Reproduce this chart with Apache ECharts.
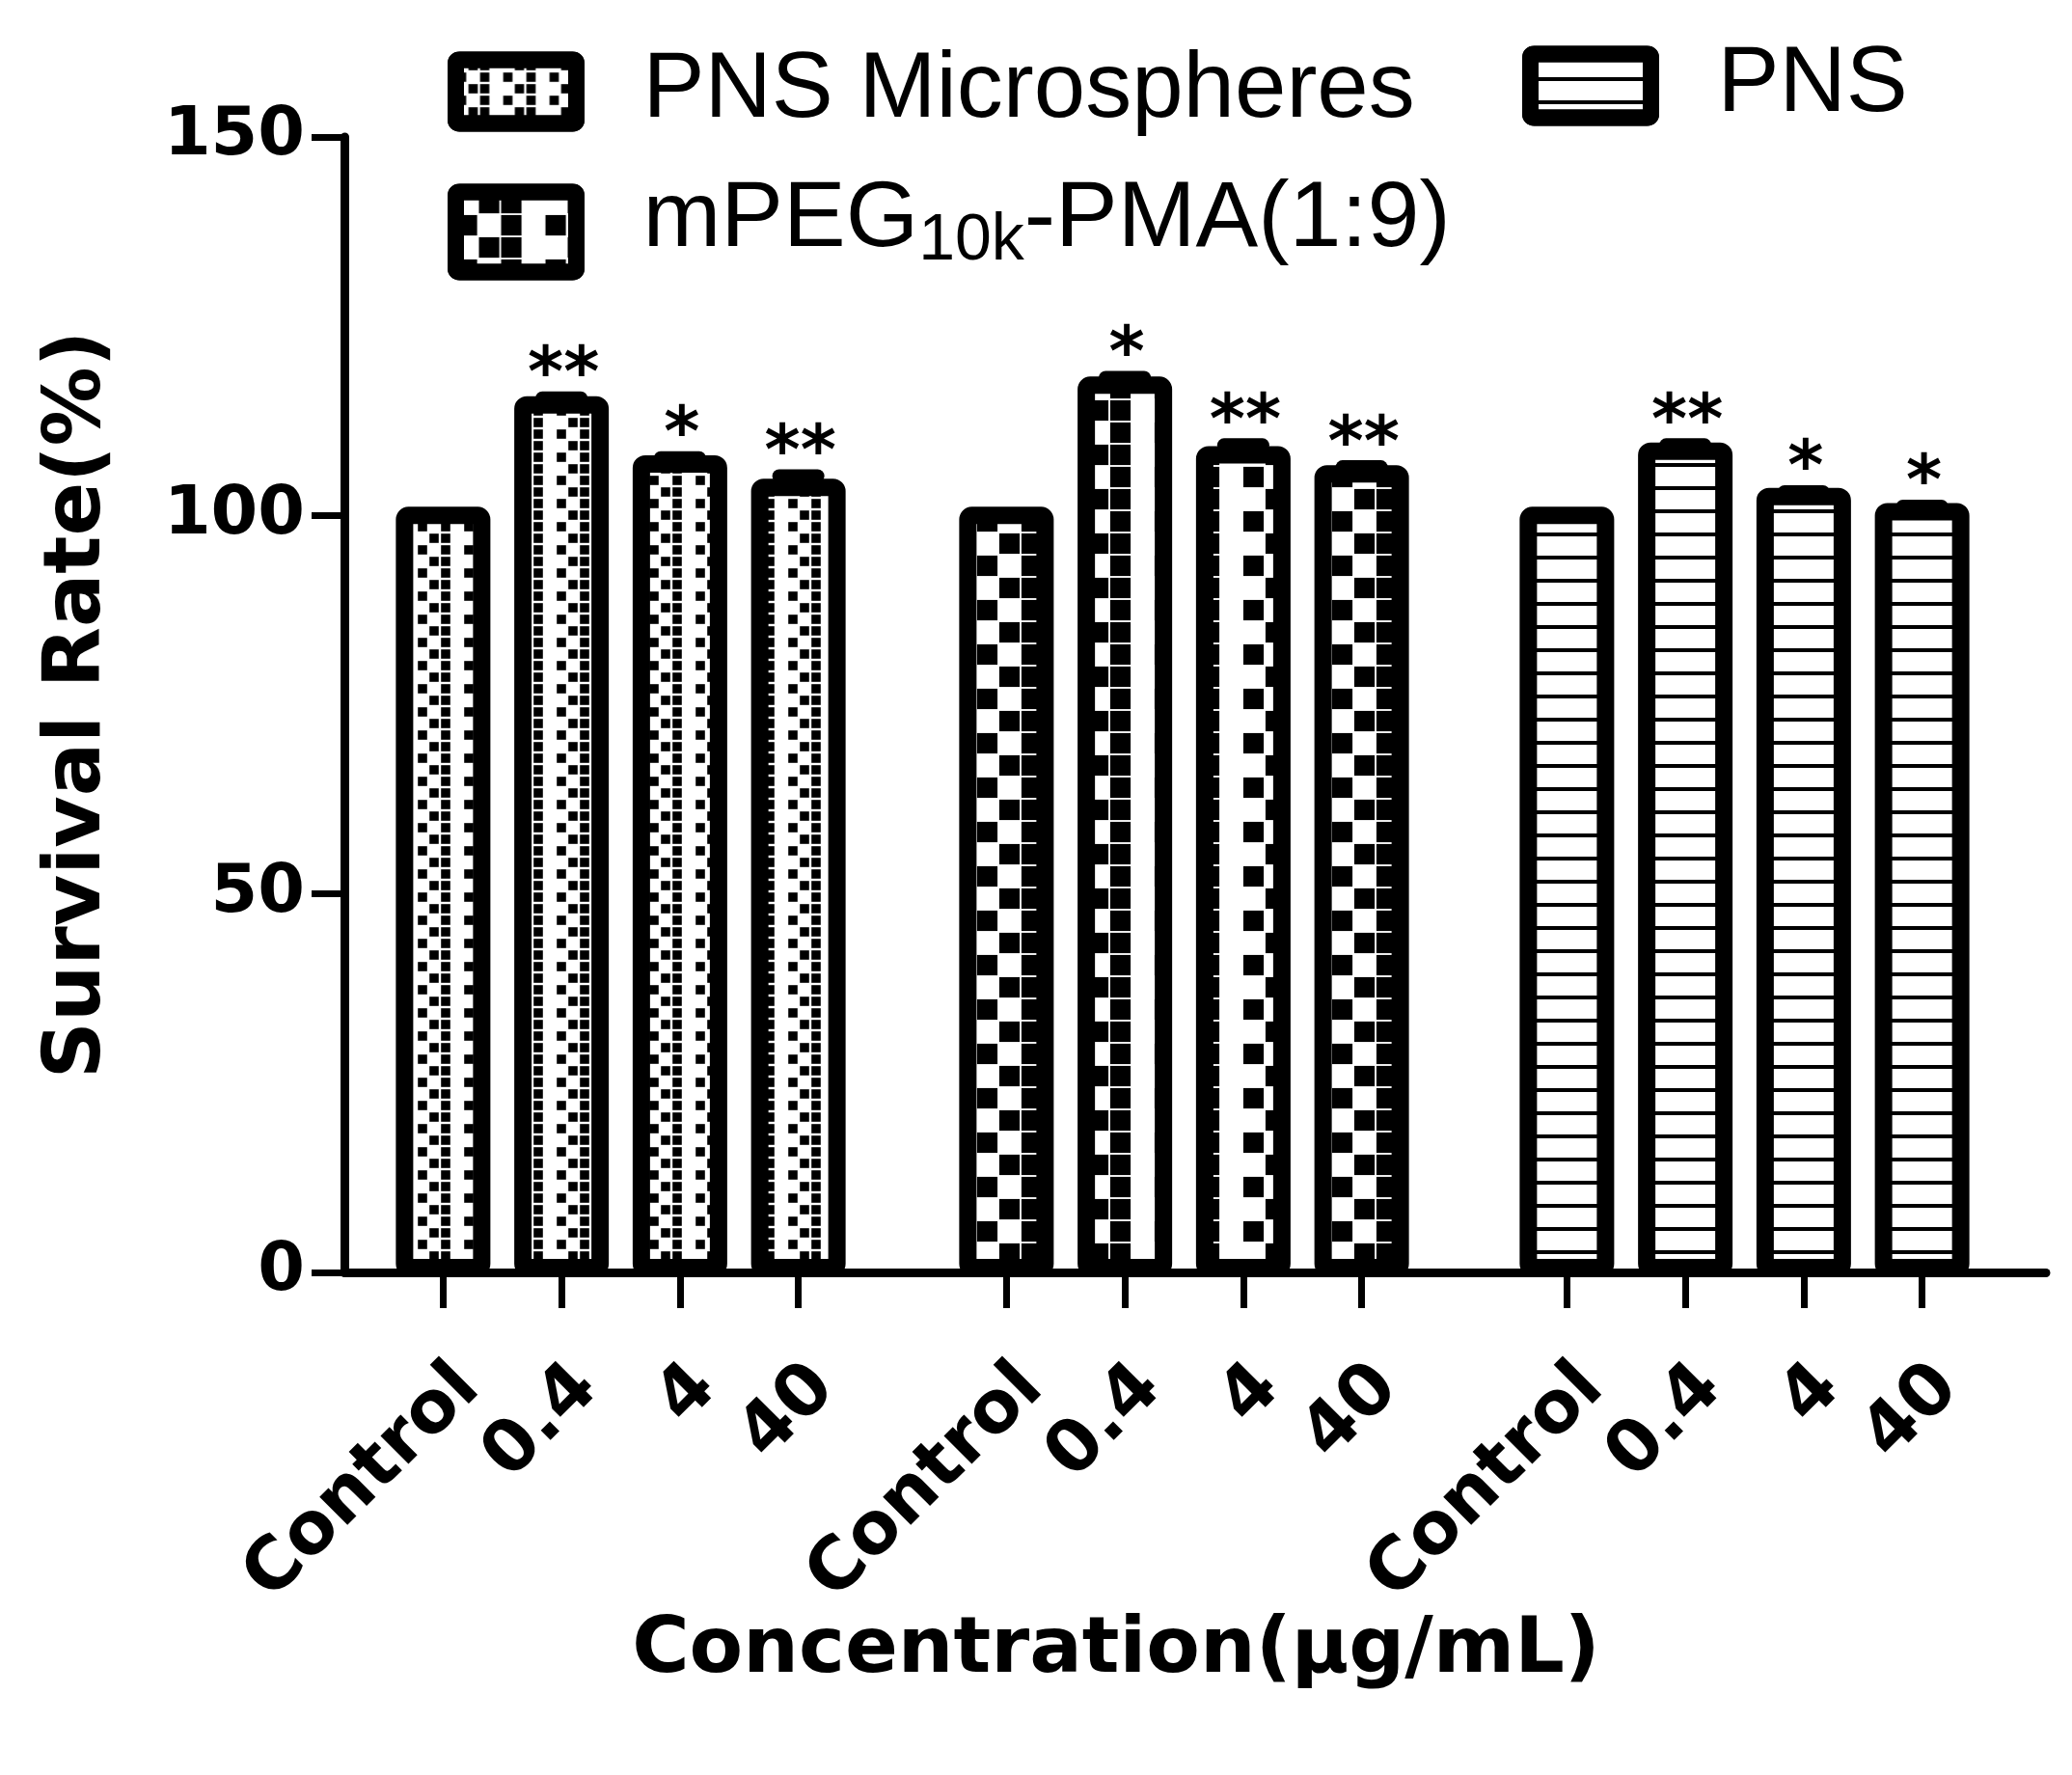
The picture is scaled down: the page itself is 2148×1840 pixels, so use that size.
<!DOCTYPE html>
<html>
<head>
<meta charset="utf-8">
<script src="https://cdn.jsdelivr.net/npm/echarts@6/dist/echarts.min.js"></script>
<style>
html,body{margin:0;padding:0;background:#fff;}
#chart{width:2148px;height:1840px;}
</style>
</head>
<body>
<div id="chart"></div>
<script>
// ---------------- data ----------------
const categories = ['Control', '0.4', '4', '40'];
const seriesNames = ['PNS Microspheres', 'mPEG10k-PMA(1:9)', 'PNS'];
const microValues = [100, 114.6, 106.8, 103.7];
const microErrors = [0, 0.9, 0.8, 1.5];
const microSig = ['', '**', '*', '**'];
const mpegValues = [100, 117.2, 108.0, 105.5];
const mpegErrors = [0, 1.0, 1.3, 0.9];
const mpegSig = ['', '*', '**', '**'];
const pnsValues = [100, 108.5, 102.5, 100.5];
const pnsErrors = [0, 0.8, 0.6, 0.7];
const pnsSig = ['', '**', '*', '*'];
const yTicks = [0, 50, 100, 150];
const xTitle = 'Concentration(µg/mL)';
const yTitle = 'Survival Rate(%)';

// ---------------- layout / style ----------------
const groups = [
  {values: microValues, errors: microErrors, sig: microSig},
  {values: mpegValues, errors: mpegErrors, sig: mpegSig},
  {values: pnsValues, errors: pnsErrors, sig: pnsSig}
];
const groupLefts = [398, 982, 1563];
const groupWidth = 491;
const gridTop = 142, gridBottom = 521;
const barW = 80, barBorder = 18;
const boldFont = 'DejaVu Sans';
const decals = [
  {symbol: 'rect', symbolSize: 0.8, color: '#000', dashArrayX: [[12, 12], [0, 12, 12]], dashArrayY: [12, 0]},
  {symbol: 'rect', symbolSize: 0.92, color: '#000', dashArrayX: [[23, 23], [0, 23, 23]], dashArrayY: [23, 0]},
  {symbol: 'rect', symbolSize: 1, color: '#000', dashArrayX: [1, 0], dashArrayY: [4, 20]}
];
function roundRectPath(w, h, r) {
  return 'path://M' + r + ',0 H' + (w - r) + ' Q' + w + ',0 ' + w + ',' + r +
    ' V' + (h - r) + ' Q' + w + ',' + h + ' ' + (w - r) + ',' + h +
    ' H' + r + ' Q0,' + h + ' 0,' + (h - r) + ' V' + r + ' Q0,0 ' + r + ',0 Z';
}

const grids = [], xAxes = [], yAxes = [], series = [];
groups.forEach(function (g, k) {
  grids.push({left: groupLefts[k], width: groupWidth, top: gridTop, bottom: gridBottom});
  xAxes.push({
    type: 'category', gridIndex: k, data: categories,
    axisLine: {show: false},
    axisTick: {show: true, alignWithLabel: true, length: 37, lineStyle: {color: '#000', width: 7}},
    axisLabel: {rotate: 45, margin: 82, verticalAlign: 'top', color: '#000', fontSize: 75,
      fontWeight: 'bold', fontFamily: boldFont, interval: 0}
  });
  yAxes.push({type: 'value', gridIndex: k, min: 0, max: 150, interval: 50, show: false});
  series.push({
    name: seriesNames[k], type: 'bar', xAxisIndex: k, yAxisIndex: k,
    data: g.values, barWidth: barW,
    itemStyle: {color: '#fff', decal: decals[k]},
    emphasis: {disabled: true}
  });
  const errData = g.values.map(function (v, i) { return [i, v, g.errors[i]]; });
  series.push({
    name: 'outline' + k, type: 'custom', xAxisIndex: k, yAxisIndex: k, z: 5,
    data: errData,
    renderItem: function (params, api) {
      const ci = api.value(0), v = api.value(1), e = api.value(2);
      const base = api.coord([ci, v]);
      const zero = api.coord([ci, 0]);
      const top = api.coord([ci, v + e]);
      const children = [];
      if (e > 0) {
        children.push({type: 'line', shape: {x1: top[0], y1: base[1], x2: top[0], y2: top[1]}, style: {stroke: '#000', lineWidth: 14}});
        children.push({type: 'line', shape: {x1: top[0] - 20, y1: top[1], x2: top[0] + 20, y2: top[1]}, style: {stroke: '#000', lineWidth: 14, lineCap: 'round'}});
      }
      children.push({type: 'rect',
        shape: {x: base[0] - barW / 2, y: base[1], width: barW, height: zero[1] - base[1] - 5, r: 4},
        style: {fill: null, stroke: '#000', lineWidth: barBorder}});
      const s = g.sig[params.dataIndex];
      if (s) {
        children.push({type: 'text', x: top[0] + 2, y: top[1] - 21, style: {text: s, textAlign: 'center', textVerticalAlign: 'middle', fontSize: 71, fontWeight: 'bold', fontFamily: 'DejaVu Sans', fill: '#000'}});
      }
      return {type: 'group', children: children};
    }
  });
});

// main frame grid (axis lines, y ticks, titles)
grids.push({left: 357, right: 27, top: gridTop, bottom: gridBottom});
xAxes.push({
  type: 'value', gridIndex: 3, min: 0, max: 1,
  axisLine: {show: true, lineStyle: {color: '#000', width: 9}},
  axisTick: {show: false}, axisLabel: {show: false}, splitLine: {show: false},
  name: xTitle, nameLocation: 'middle', nameGap: 352,
  nameTextStyle: {color: '#000', fontSize: 81, fontWeight: 'bold', fontFamily: boldFont, padding: [0, 164, 0, 0]}
});
yAxes.push({
  type: 'value', gridIndex: 3, min: yTicks[0], max: yTicks[yTicks.length - 1], interval: 50,
  axisLine: {show: true, lineStyle: {color: '#000', width: 9}},
  axisTick: {show: true, length: 34, lineStyle: {color: '#000', width: 7}},
  axisLabel: {color: '#000', fontSize: 70, fontWeight: 'bold', fontFamily: boldFont, margin: 41},
  splitLine: {show: false},
  name: yTitle, nameLocation: 'middle', nameGap: 234, nameRotate: 90,
  nameTextStyle: {color: '#000', fontSize: 82, fontWeight: 'bold', fontFamily: boldFont}
});

const legendText = {color: '#000', fontSize: 96, fontFamily: 'Liberation Sans', padding: [0, 0, 0, 64]};
const legends = [
  {data: [seriesNames[0]], left: 464, top: 47, itemWidth: 125, itemHeight: 66, icon: roundRectPath(125, 66, 4),
   padding: 0, selectedMode: false, itemStyle: {borderWidth: 17, borderColor: '#000'}, textStyle: legendText},
  {data: [seriesNames[1]], left: 464, top: 180, itemWidth: 125, itemHeight: 83, icon: roundRectPath(125, 83, 4),
   padding: 0, selectedMode: false, itemStyle: {borderWidth: 17, borderColor: '#000'},
   formatter: function () { return '{m|mPEG}{s|10k}{m|-PMA(1:9)}'; },
   textStyle: {color: '#000', fontFamily: 'Liberation Sans', padding: [0, 0, 24, 64],
     rich: {m: {fontSize: 97, fontFamily: 'Liberation Sans', lineHeight: 112, color: '#000'},
            s: {fontSize: 68, fontFamily: 'Liberation Sans', lineHeight: 54, verticalAlign: 'bottom', color: '#000'}}}},
  {data: [seriesNames[2]], left: 1578, top: 41, itemWidth: 125, itemHeight: 66, icon: roundRectPath(125, 66, 4),
   padding: 0, selectedMode: false, itemStyle: {borderWidth: 17, borderColor: '#000'}, textStyle: legendText}
];

const chart = echarts.init(document.getElementById('chart'), null, {renderer: 'canvas'});
chart.setOption({
  backgroundColor: '#fff',
  animation: false,
  grid: grids,
  xAxis: xAxes,
  yAxis: yAxes,
  legend: legends,
  series: series
});
</script>
</body>
</html>
